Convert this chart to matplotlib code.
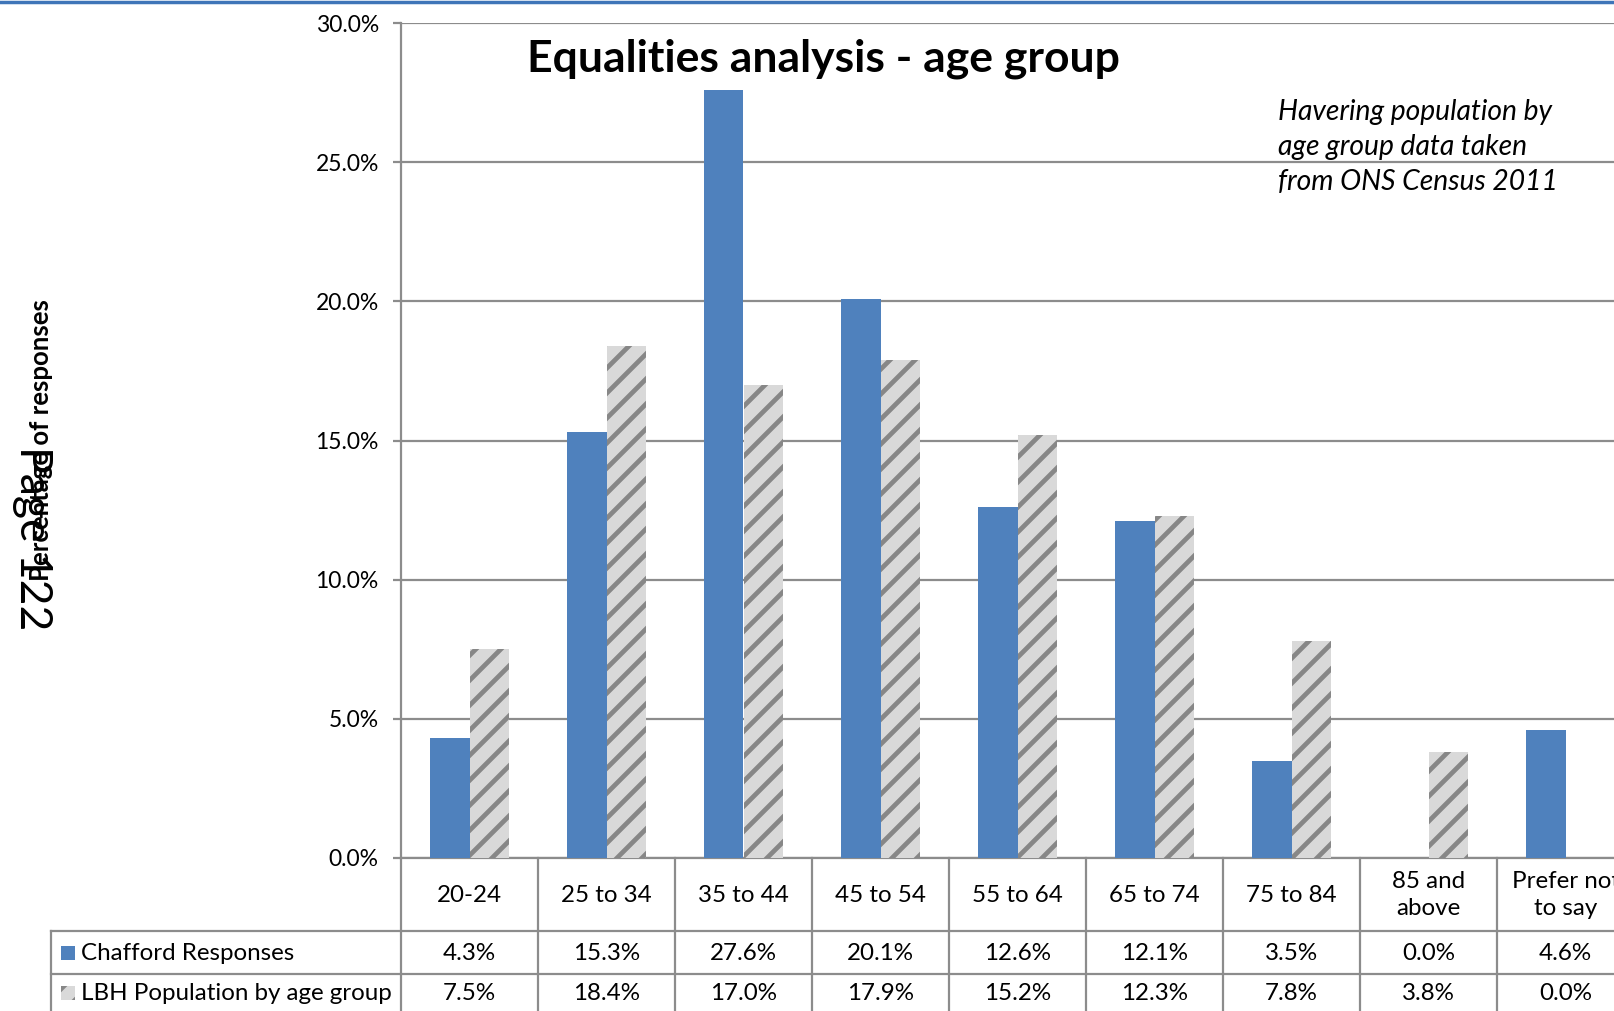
import matplotlib
matplotlib.use("Agg")
import matplotlib.pyplot as plt
from matplotlib.transforms import Affine2D, blended_transform_factory
from matplotlib.patches import Rectangle
from matplotlib.lines import Line2D
from matplotlib.backend_bases import GraphicsContextBase
import numpy as np

categories = ["20-24", "25 to 34", "35 to 44", "45 to 54", "55 to 64",
              "65 to 74", "75 to 84", "85 and\nabove", "Prefer not\nto say"]
chafford = [4.3, 15.3, 27.6, 20.1, 12.6, 12.1, 3.5, 0.0, 4.6]
lbh = [7.5, 18.4, 17.0, 17.9, 15.2, 12.3, 7.8, 3.8, 0.0]
series_names = ["Chafford Responses", "LBH Population by age group"]
yticks = [0, 5, 10, 15, 20, 25, 30]
title = "Equalities analysis - age group"
note = "Havering population by\nage group data taken\nfrom ONS Census 2011"
ylabel = "Percentage of responses"

# slightly denser diagonal hatch than matplotlib's default
_orig_hatch_path = GraphicsContextBase.get_hatch_path
def _hatch_path(self, density=8.0):
    return _orig_hatch_path(self, density)
GraphicsContextBase.get_hatch_path = _hatch_path

plt.rcParams['font.family'] = ['Lato', 'DejaVu Sans']
plt.rcParams['hatch.linewidth'] = 3.4

W, H = 1614, 1011
fig = plt.figure(figsize=(W / 100, H / 100), dpi=100)
fig.patch.set_facecolor('white')
px = Affine2D().scale(1 / W, -1 / H).translate(0, 1) + fig.transFigure

ax_left, ax_top, ax_bottom, catw = 401, 23, 858, 137
n = len(categories)
ax = fig.add_axes([ax_left / W, (H - ax_bottom) / H, n * catw / W, (ax_bottom - ax_top) / H])
x = np.arange(n)
bw = 0.285
blue = '#4f81bd'
grid_c = '#8c8c8c'
hatch_bg, hatch_fg = '#d9d9d9', '#878787'
ax.bar(x - bw / 2, chafford, width=bw, color=blue, linewidth=0, zorder=3)
ax.bar(x + bw / 2, lbh, width=bw, color=hatch_bg, edgecolor=hatch_fg, hatch='/', linewidth=0, zorder=3)
ax.set_xlim(-0.5, n - 0.5)
ax.set_ylim(0, 30)
ax.set_yticks(yticks)
ax.set_yticklabels([f"{v:.1f}%" for v in yticks], fontsize=16.5)
ax.set_xticks([])
ax.yaxis.grid(True, color=grid_c, linewidth=1.6, zorder=0)
ax.tick_params(axis='y', direction='out', length=6, width=1.6, color=grid_c, pad=10)
for s in ['top', 'right']:
    ax.spines[s].set_visible(False)
ax.spines['left'].set_color(grid_c)
ax.spines['left'].set_linewidth(1.6)
ax.spines['bottom'].set_color(grid_c)
ax.spines['bottom'].set_linewidth(1.6)

# title and note
fig.text(823 / W, 1 - 59 / H, title, fontsize=32, fontweight='bold', ha='center', va='center')
fig.text(1278 / W, 1 - 147 / H, note, fontsize=20.3, style='italic', ha='left', va='center',
         linespacing=1.42)

# y label and page marker
fig.text(41 / W, 1 - 440 / H, ylabel, fontsize=18.5, fontweight='bold', rotation=90,
         ha='center', va='center')
fig.text(32 / W, 1 - 538 / H, "Page 122", fontsize=32, rotation=270, ha='center', va='center')

# top blue rule
fig.add_artist(Line2D([0, 1], [1 - 1.5 / H, 1 - 1.5 / H], color='#3f75b8', linewidth=2.5,
                      transform=fig.transFigure))

# data table
tline = dict(color=grid_c, linewidth=1.6, clip_on=False)
bt = blended_transform_factory(ax.transData, px)
row_y = [931, 974]
for yy in row_y:
    fig.add_artist(Line2D([51 / W, 1], [1 - yy / H, 1 - yy / H], transform=fig.transFigure, **tline))
fig.add_artist(Line2D([51 / W, 51 / W], [1 - 931 / H, 0], transform=fig.transFigure, **tline))
for b in np.arange(n + 1) - 0.5:
    ax.add_artist(Line2D([b, b], [ax_bottom, H + 5], transform=bt, **tline))

fs_tab = 17.4
for i, c in enumerate(categories):
    ax.text(i, 895, c, transform=bt, ha='center', va='center', fontsize=fs_tab, linespacing=1.35)
    ax.text(i, 953, f"{chafford[i]:.1f}%", transform=bt, ha='center', va='center', fontsize=fs_tab)
    ax.text(i, 993, f"{lbh[i]:.1f}%", transform=bt, ha='center', va='center', fontsize=fs_tab)

fig.add_artist(Rectangle((61 / W, 1 - 960 / H), 14 / W, 14 / H, transform=fig.transFigure,
                         facecolor=blue, linewidth=0))
fig.add_artist(Rectangle((61 / W, 1 - 1000 / H), 14 / W, 14 / H, transform=fig.transFigure,
                         facecolor=hatch_bg, edgecolor=hatch_fg, hatch='/', linewidth=0))
fig.text(81 / W, 1 - 953 / H, series_names[0], fontsize=fs_tab, ha='left', va='center')
fig.text(81 / W, 1 - 993 / H, series_names[1], fontsize=fs_tab, ha='left', va='center')

fig.savefig("out.png", dpi=100)
